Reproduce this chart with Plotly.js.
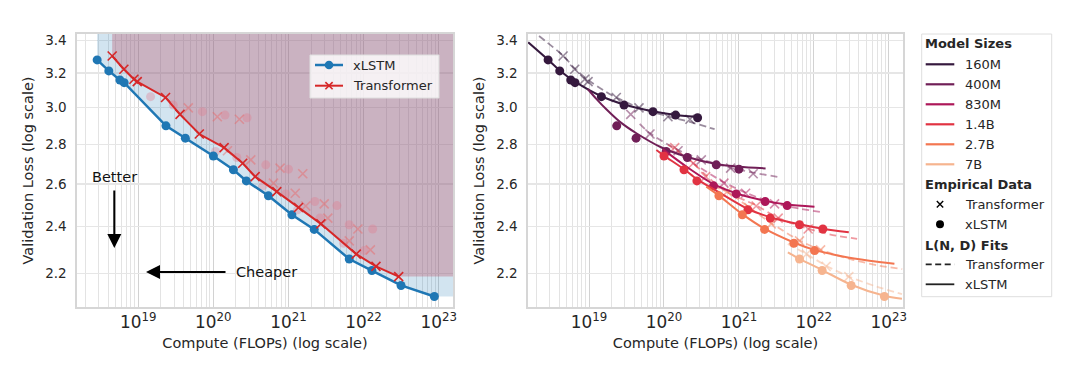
<!DOCTYPE html>
<html><head><meta charset="utf-8">
<script src="https://cdn.plot.ly/plotly-3.0.1.min.js"></script>
<style>html,body{margin:0;padding:0;background:#fff;} #chart{width:1080px;height:374px;}</style>
</head><body><div id="chart"></div>
<script>
// ---------------- DATA ----------------
const modelSizes = ['160M','400M','830M','1.4B','2.7B','7B'];
const sizeColors = ['#35193e','#701f57','#ad1759','#e13342','#f37651','#f6b48f'];

// xLSTM empirical points: compute (FLOPs) and validation loss, per model size
const xlstmCompute = [
  [2.84e18,4.06e18,5.70e18,6.50e18,1.46e19,2.93e19,7.13e19,1.43e20,2.81e20],
  [2.34e19,4.24e19,1.07e20,2.05e20,4.99e20,1.00e21],
  [4.59e20,9.21e20,2.24e21,4.41e21],
  [1.00e20,1.85e20,2.75e20,1.32e21,2.62e21,6.44e21,1.32e22],
  [5.41e20,1.11e21,2.20e21,5.41e21,1.02e22],
  [6.44e21,1.29e22,3.15e22,8.75e22]
];
const xlstmLoss = [
  [3.280,3.213,3.159,3.143,3.062,3.014,2.977,2.958,2.943],
  [2.899,2.833,2.763,2.732,2.695,2.673],
  [2.591,2.552,2.516,2.497],
  [2.740,2.670,2.615,2.477,2.439,2.409,2.390],
  [2.543,2.454,2.388,2.327,2.295],
  [2.259,2.211,2.150,2.106]
];
const xlstmOnFrontier = [
  [1,1,1,1,0,0,0,0,0],[1,1,0,0,0,0],[0,0,0,0],[1,1,1,0,0,0,0],[1,1,1,0,0],[1,1,1,1]
];

// Transformer empirical points
const trfCompute = [
  [4.50e18,6.44e18,8.75e18,9.70e18,2.31e19,4.64e19,1.13e20,2.22e20],
  [3.60e19,6.50e19,1.54e20,3.15e20,7.74e20,1.55e21],
  [6.31e20,1.23e21,2.99e21],
  [1.39e20,2.46e20,3.60e20,1.70e21,3.34e21,8.40e21],
  [6.99e20,1.36e21,2.70e21,6.44e21,1.23e22],
  [7.98e21,1.46e22,2.93e22]
];
const trfLoss = [
  [3.304,3.223,3.163,3.149,3.057,2.998,2.949,2.935],
  [2.962,2.855,2.767,2.720,2.678,2.650],
  [2.604,2.555,2.505],
  [2.783,2.703,2.636,2.495,2.439,2.390],
  [2.563,2.488,2.413,2.337,2.298],
  [2.280,2.228,2.186]
];
const trfOnFrontier = [
  [1,1,1,1,1,0,0,0],[1,1,0,0,0,0],[0,0,0],[1,1,1,0,0,0],[1,1,1,0,0],[1,1,1]
];

// L(N,D) fit curves, sampled off the figure
const xlstmFitCompute = [
  [1.54e18,2.84e18,4.06e18,6.50e18,1.46e19,2.93e19,7.13e19,1.43e20,3.15e20],
  [9.60e18,1.25e19,1.70e19,2.56e19,4.28e19,9.12e19,2.05e20,4.99e20,1.00e21,2.27e21],
  [9.70e19,1.99e20,4.59e20,9.21e20,2.24e21,4.41e21,1.02e22],
  [7.91e19,1.00e20,1.85e20,2.75e20,5.52e20,1.32e21,2.62e21,6.44e21,1.32e22,2.93e22],
  [3.67e20,5.41e20,1.11e21,2.20e21,5.41e21,1.02e22,2.44e22,5.52e22,1.19e23],
  [4.50e21,6.44e21,1.29e22,3.15e22,8.75e22,1.50e23]
];
const xlstmFitLoss = [
  [3.390,3.281,3.216,3.149,3.064,3.017,2.979,2.958,2.946],
  [3.106,3.049,2.990,2.922,2.859,2.785,2.735,2.699,2.685,2.677],
  [2.774,2.686,2.599,2.555,2.519,2.502,2.492],
  [2.771,2.742,2.673,2.624,2.558,2.481,2.443,2.411,2.391,2.375],
  [2.587,2.544,2.457,2.391,2.330,2.298,2.270,2.252,2.239],
  [2.287,2.260,2.213,2.153,2.109,2.097]
];
const trfFitCompute = [
  [2.15e18,4.50e18,6.44e18,9.70e18,1.54e19,2.31e19,4.64e19,1.13e20,2.22e20,4.74e20],
  [4.74e19,6.50e19,1.54e20,3.15e20,7.74e20,1.55e21,3.48e21],
  [1.32e20,2.44e20,6.31e20,1.23e21,2.99e21,6.44e21,1.36e22],
  [1.13e20,1.39e20,2.46e20,3.60e20,6.78e20,1.70e21,3.34e21,8.40e21,1.79e22,3.78e22],
  [4.50e20,6.99e20,1.36e21,2.70e21,6.44e21,1.23e22,3.31e22,7.52e22,1.51e23],
  [4.50e21,7.98e21,1.46e22,2.93e22,6.78e22,1.50e23]
];
const trfFitLoss = [
  [3.430,3.306,3.228,3.159,3.100,3.057,2.999,2.951,2.920,2.881],
  [2.910,2.859,2.771,2.723,2.680,2.656,2.633],
  [2.766,2.703,2.608,2.558,2.508,2.483,2.465],
  [2.798,2.774,2.703,2.644,2.563,2.498,2.440,2.391,2.363,2.346],
  [2.587,2.563,2.489,2.416,2.339,2.298,2.256,2.231,2.217],
  [2.324,2.280,2.231,2.186,2.146,2.115]
];

const yTickVals = [2.2,2.4,2.6,2.8,3.0,3.2,3.4];
const yTickText = ['2.2','2.4','2.6','2.8','3.0','3.2','3.4'];

// ---------------- STYLE / LAYOUT ----------------
const FONT = 'DejaVu Sans, Verdana, sans-serif';
const TXT = '#262626';
const BLUE = '#1f77b4', RED = '#d62728';
const xRangeLog = [18.185, 23.19];
const yRangeLog = [Math.log10(2.065), Math.log10(3.443)];
const ML = 77, MR = 177, MT = 34, MB = 67, W = 1080, H = 374;
const PW = W - ML - MR, PH = H - MT - MB;
const PX = p => (p - ML) / PW;
const PY = p => (H - MB - p) / PH;

function rgba(hex, a){
  const n = parseInt(hex.slice(1),16);
  return `rgba(${(n>>16)&255},${(n>>8)&255},${n&255},${a})`;
}
function collect(Cs, Ls, flags, want){
  const pts=[];
  Cs.forEach((arr,i)=>arr.forEach((c,j)=>{ if(!!flags[i][j]===want) pts.push([c, Ls[i][j]]); }));
  pts.sort((a,b)=>a[0]-b[0]);
  return pts;
}
const xMax = Math.pow(10, xRangeLog[1]);
const yTop = Math.pow(10, yRangeLog[1]);
function regionPoly(pts){
  const xs=[pts[0][0]], ys=[yTop];
  pts.forEach(p=>{xs.push(p[0]); ys.push(p[1]);});
  xs.push(xMax, xMax); ys.push(pts[pts.length-1][1], yTop);
  return {xs, ys};
}

const traces = [];
// ---- left panel ----
const xf = collect(xlstmCompute, xlstmLoss, xlstmOnFrontier, true);
const tf = collect(trfCompute, trfLoss, trfOnFrontier, true);
const xo = collect(xlstmCompute, xlstmLoss, xlstmOnFrontier, false);
const to = collect(trfCompute, trfLoss, trfOnFrontier, false);
const xr = regionPoly(xf), tr = regionPoly(tf);
traces.push({x:xr.xs, y:xr.ys, xaxis:'x', yaxis:'y', mode:'lines', fill:'toself',
  fillcolor:'rgba(31,119,180,0.2)', line:{width:0}, hoverinfo:'skip', showlegend:false});
traces.push({x:tr.xs, y:tr.ys, xaxis:'x', yaxis:'y', mode:'lines', fill:'toself',
  fillcolor:'rgba(188,88,112,0.36)', line:{width:0}, hoverinfo:'skip', showlegend:false});
traces.push({x:xo.map(p=>p[0]), y:xo.map(p=>p[1]), xaxis:'x', yaxis:'y', mode:'markers',
  marker:{size:9, color:'rgba(225,120,140,0.35)'}, showlegend:false});
traces.push({x:to.map(p=>p[0]), y:to.map(p=>p[1]), xaxis:'x', yaxis:'y', mode:'markers',
  marker:{symbol:'x-thin', size:9, line:{width:1.6, color:'rgba(235,100,100,0.45)'}}, showlegend:false});
traces.push({x:xf.map(p=>p[0]), y:xf.map(p=>p[1]), xaxis:'x', yaxis:'y', mode:'lines+markers', name:'xLSTM',
  line:{color:BLUE, width:2.5}, marker:{size:9, color:BLUE}, showlegend:false});
traces.push({x:tf.map(p=>p[0]), y:tf.map(p=>p[1]), xaxis:'x', yaxis:'y', mode:'lines+markers', name:'Transformer',
  line:{color:RED, width:2}, marker:{symbol:'x-thin', size:9, line:{width:1.6, color:RED}}, showlegend:false});

// ---- right panel ----
modelSizes.forEach((s,i)=>{
  const c = sizeColors[i];
  traces.push({x:trfFitCompute[i], y:trfFitLoss[i], xaxis:'x2', yaxis:'y2', mode:'lines',
    line:{color:rgba(c,0.5), width:1.8, dash:'7px,4px', shape:'spline', smoothing:0.8}, showlegend:false});
  traces.push({x:trfCompute[i], y:trfLoss[i], xaxis:'x2', yaxis:'y2', mode:'markers',
    marker:{symbol:'x-thin', size:9, line:{width:1.6, color:rgba(c,0.5)}}, showlegend:false});
});
modelSizes.forEach((s,i)=>{
  const c = sizeColors[i];
  traces.push({x:xlstmFitCompute[i], y:xlstmFitLoss[i], xaxis:'x2', yaxis:'y2', mode:'lines',
    line:{color:c, width:2, shape:'spline', smoothing:0.8}, showlegend:false});
  traces.push({x:xlstmCompute[i], y:xlstmLoss[i], xaxis:'x2', yaxis:'y2', mode:'markers',
    marker:{size:9, color:c}, showlegend:false});
});

function xAxis(domain, anchor){
  return {type:'log', range:xRangeLog, domain, anchor, dtick:1, exponentformat:'power', showexponent:'all',
    showgrid:true, gridcolor:'#d2d2d2', gridwidth:1, zeroline:false,
    minor:{dtick:'D1', showgrid:true, gridcolor:'#e3e3e3', gridwidth:1, ticks:''},
    showline:true, mirror:true, linecolor:'#d6d6d6', linewidth:1.6, ticks:'',
    tickfont:{family:FONT, size:13.5, color:TXT},
    title:{text:'Compute (FLOPs) (log scale)', font:{family:FONT, size:14.5, color:TXT}, standoff:6}};
}
function yAxis(anchor){
  return {type:'log', range:yRangeLog, domain:[0,1], anchor, tickvals:yTickVals, ticktext:yTickText,
    showgrid:true, gridcolor:'#e6e6e6', gridwidth:1.2, zeroline:false,
    showline:true, mirror:true, linecolor:'#d6d6d6', linewidth:1.6, ticks:'', ticklabelstandoff:6,
    tickfont:{family:FONT, size:13.5, color:TXT},
    title:{text:'Validation Loss (log scale)', font:{family:FONT, size:14.5, color:TXT}, standoff:8}};
}

const shapes = [], annotations = [];
function txt(text, px, py, opts={}){
  annotations.push(Object.assign({xref:'paper', yref:'paper', x:PX(px), y:PY(py), text, showarrow:false,
    xanchor:'left', yanchor:'middle', font:{family:FONT, size:13, color:TXT}}, opts));
}
function hline(x0,x1,y,color,width,dash){
  shapes.push({type:'line', xref:'paper', yref:'paper', x0:PX(x0), x1:PX(x1), y0:PY(y), y1:PY(y),
    line:{color, width, dash:dash||'solid'}});
}
function dot(cx,cy,r,color){
  shapes.push({type:'circle', xref:'paper', yref:'paper', x0:PX(cx-r), x1:PX(cx+r), y0:PY(cy+r), y1:PY(cy-r),
    fillcolor:color, line:{width:0}});
}
function cross(cx,cy,r,color,width){
  shapes.push({type:'line', xref:'paper', yref:'paper', x0:PX(cx-r), x1:PX(cx+r), y0:PY(cy-r), y1:PY(cy+r), line:{color, width}});
  shapes.push({type:'line', xref:'paper', yref:'paper', x0:PX(cx-r), x1:PX(cx+r), y0:PY(cy+r), y1:PY(cy-r), line:{color, width}});
}

// left legend
shapes.push({type:'rect', xref:'paper', yref:'paper', x0:PX(310), x1:PX(439), y0:PY(98), y1:PY(55),
  fillcolor:'rgba(255,255,255,0.8)', line:{color:'#dedede', width:1}});
hline(315,343,65,BLUE,2.5); dot(329,65,4.3,BLUE); txt('xLSTM',351,65);
hline(315,343,85.7,RED,2); cross(329,85.7,3.6,RED,1.6); txt('Transformer',351,85.7);

// Better / Cheaper
txt('Better',114.5,177,{xanchor:'center', font:{family:FONT, size:14.5, color:'#111'}});
txt('Cheaper',266,272,{xanchor:'center', font:{family:FONT, size:14.5, color:'#111'}});
annotations.push({xref:'paper', yref:'paper', x:PX(114.3), y:PY(248), ax:0, ay:-59, axref:'pixel', ayref:'pixel',
  text:'', showarrow:true, arrowhead:2, arrowsize:1.4, arrowwidth:2, arrowcolor:'#000'});
annotations.push({xref:'paper', yref:'paper', x:PX(146), y:PY(272), ax:81, ay:0, axref:'pixel', ayref:'pixel',
  text:'', showarrow:true, arrowhead:2, arrowsize:1.4, arrowwidth:2, arrowcolor:'#000'});

// right legend
shapes.push({type:'rect', xref:'paper', yref:'paper', x0:PX(921.7), x1:PX(1051.7), y0:PY(296.7), y1:PY(34),
  fillcolor:'#ffffff', line:{color:'#dedede', width:1}});
const bold = {family:FONT, size:13, color:TXT};
txt('<b>Model Sizes</b>',923,43.5,{font:bold});
modelSizes.forEach((s,i)=>{ const y=64.3+20*i; hline(925.7,954.3,y,sizeColors[i],2.2); txt(s,963,y); });
txt('<b>Empirical Data</b>',923,184.3,{font:bold});
cross(940,204.3,3.2,'#000',1.4); txt('Transformer',963,204.3);
dot(940,224.3,4,'#000'); txt('xLSTM',963,224.3);
txt('<b>L(N, D) Fits</b>',923,245.5,{font:bold});
hline(925.7,954.3,264.3,'#222',1.8,'6px,3.5px'); txt('Transformer',963,264.3);
hline(925.7,954.3,284.3,'#222',1.8); txt('xLSTM',963,284.3);

const layout = {
  width:W, height:H, margin:{l:ML, r:MR, t:MT, b:MB},
  paper_bgcolor:'#ffffff', plot_bgcolor:'#ffffff', showlegend:false,
  font:{family:FONT, size:13, color:TXT},
  xaxis: xAxis([0, 376/PW], 'y'),
  yaxis: yAxis('x'),
  xaxis2: xAxis([451/PW, 1], 'y2'),
  yaxis2: yAxis('x2'),
  shapes, annotations
};
Plotly.newPlot('chart', traces, layout, {displayModeBar:false, staticPlot:true});
</script></body></html>
